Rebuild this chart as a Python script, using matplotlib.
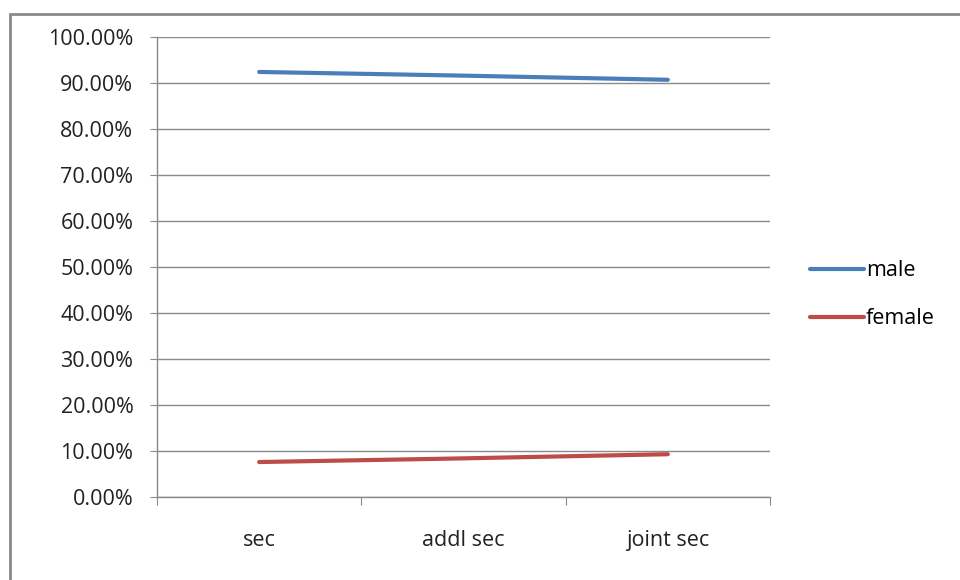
import numpy as np
import matplotlib.pyplot as plt
from matplotlib.patches import Rectangle
from matplotlib.ticker import FuncFormatter

categories = ["sec", "addl sec", "joint sec"]
male = [92.4, 91.6, 90.7]
female = [7.6, 8.4, 9.3]
y_ticks = list(range(0, 101, 10))

plt.rcParams['font.family'] = ['Open Sans', 'DejaVu Sans']

fig = plt.figure(figsize=(9.6, 5.8), dpi=100)

# outer chart frame (cut by the image edge on the right/bottom)
fig.patches.append(Rectangle((10 / 960, -0.05), 1.2, 1 - 14 / 580 + 0.05,
                             transform=fig.transFigure, fill=False,
                             edgecolor='#8a8a8a', linewidth=2))

ax = fig.add_axes([157 / 960, 1 - 497 / 580, (770 - 157) / 960, (497 - 37) / 580])

x = np.arange(len(categories))
ax.plot(x, male, color='#4A7EBB', linewidth=3, solid_capstyle='round', label='male')
ax.plot(x, female, color='#BE4B48', linewidth=3, solid_capstyle='round', label='female')

ax.set_xlim(-0.5, len(categories) - 0.5)
ax.set_ylim(0, 100)
ax.set_yticks(y_ticks)
ax.yaxis.set_major_formatter(FuncFormatter(lambda v, p: f"{v:.2f}%"))
ax.set_xticks(np.arange(len(categories) + 1) - 0.5)
ax.set_xticklabels([])
ax.set_xticks(x, minor=True)
ax.set_xticklabels(categories, minor=True)
ax.tick_params(axis='x', which='minor', length=0, pad=24, labelsize=15.5, labelcolor='#222222')
ax.tick_params(axis='x', which='major', length=6, color='#8a8a8a')
ax.tick_params(axis='y', length=5, color='#8a8a8a', labelsize=15.5, labelcolor='#222222', pad=12)

ax.grid(axis='y', color='#8a8a8a', linewidth=1)
ax.set_axisbelow(True)
for s in ['top', 'right']:
    ax.spines[s].set_visible(False)
for s in ['left', 'bottom']:
    ax.spines[s].set_color('#8a8a8a')
    ax.spines[s].set_linewidth(1)

ax.legend(loc='center left', bbox_to_anchor=(1.065, 0.44), frameon=False,
          borderaxespad=0, borderpad=0,
          fontsize=15.5, handlelength=2.5, handletextpad=0.1, labelspacing=1.25)

fig.savefig('out.png', dpi=100)
